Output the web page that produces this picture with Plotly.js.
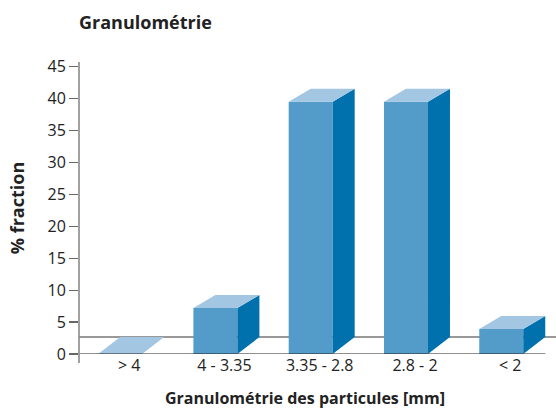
<!DOCTYPE html>
<html>
<head>
<meta charset="utf-8">
<script src="https://cdn.plot.ly/plotly-3.0.1.min.js"></script>
<style>html,body{margin:0;padding:0;background:#fff;}#chart{width:556px;height:409px;}</style>
</head>
<body>
<div id="chart"></div>
<script>
// ---- data ----
const categories = ['> 4', '4 - 3.35', '3.35 - 2.8', '2.8 - 2', '< 2'];
const fractions = [0, 7.2, 39.5, 39.5, 3.9];
const yTickValues = [0, 5, 10, 15, 20, 25, 30, 35, 40, 45];
const chartTitle = 'Granulométrie';
const xTitle = 'Granulométrie des particules [mm]';
const yTitle = '% fraction';

// ---- geometry / style ----
const W = 556, H = 409;
const M = {l: 79, r: 0, t: 62, b: 55};
const plotW = W - M.l - M.r, plotH = H - M.t - M.b;
const xRange = [-0.526, 4.48];
const yRange = [0, 45.74];
const pxX = plotW / (xRange[1] - xRange[0]);
const pxY = plotH / (yRange[1] - yRange[0]);
const faceLeft = -31 / pxX, faceW = 44 / pxX;
const depthX = 22 / pxX, depthTop = 13 / pxY, depthFloor = 17 / pxY;
const FRONT = '#539bc9', SIDE = '#0071ad', TOP = '#a3c6e2';
const FONT = 'Open Sans, sans-serif';

const idx = categories.map((_, i) => i);
const sideX = [], sideY = [], topX = [], topY = [];
idx.forEach(i => {
  const v = fractions[i];
  const L = i + faceLeft, R = L + faceW;
  const d = v > 0 ? depthTop : depthFloor;
  if (v > 0) {
    sideX.push(R, R + depthX, R + depthX, R, R, null);
    sideY.push(0, depthFloor, v + d, v, 0, null);
  }
  topX.push(L, L + depthX, R + depthX, R, L, null);
  topY.push(v, v + d, v + d, v, v, null);
});
const lastRight = categories.length - 1 + faceLeft + faceW + depthX;

const traces = [
  {type: 'bar', x: idx.map(i => i + faceLeft + faceW / 2), y: fractions, width: faceW,
   marker: {color: FRONT, line: {width: 0}}, hoverinfo: 'skip'},
  {type: 'scatter', mode: 'lines', x: sideX, y: sideY, fill: 'toself', fillcolor: SIDE,
   line: {width: 0, color: SIDE}, hoverinfo: 'skip'},
  {type: 'scatter', mode: 'lines', x: topX, y: topY, fill: 'toself', fillcolor: TOP,
   line: {width: 0, color: TOP}, hoverinfo: 'skip'}
];

const layout = {
  width: W, height: H, margin: M, showlegend: false,
  paper_bgcolor: '#fff', plot_bgcolor: '#fff',
  font: {family: FONT, color: '#222', size: 16},
  title: {text: '<b>' + chartTitle + '</b>', x: M.l / W, xanchor: 'left', xref: 'container',
          y: 1 - 23 / H, yanchor: 'middle', font: {size: 18, family: FONT, color: '#222'}},
  xaxis: {range: xRange, tickvals: idx, ticktext: categories, showgrid: false, zeroline: false,
          showline: false, ticks: '', tickfont: {size: 16, family: FONT, color: '#222'},
          fixedrange: true, automargin: false},
  yaxis: {range: yRange, tickvals: yTickValues, showgrid: false, zeroline: false, showline: false,
          ticks: 'outside', ticklen: 9, tickwidth: 1.2, tickcolor: '#666',
          tickfont: {size: 16, family: FONT, color: '#222'},
          title: {text: '<b>' + yTitle + '</b>', standoff: 18, font: {size: 18, family: FONT, color: '#222'}},
          fixedrange: true, automargin: false},
  annotations: [
    {text: '<b>' + xTitle + '</b>', xref: 'paper', yref: 'paper',
     x: (305 - M.l) / plotW, y: -44 / plotH, xanchor: 'center', yanchor: 'middle',
     showarrow: false, font: {size: 16, family: FONT, color: '#222'}}
  ],
  shapes: [
    {type: 'line', xref: 'paper', yref: 'y', x0: 0, x1: 1, y0: depthFloor, y1: depthFloor,
     line: {color: '#333', width: 1}, layer: 'below'},
    {type: 'line', xref: 'paper', yref: 'y', x0: 0, x1: (lastRight - xRange[0]) / (xRange[1] - xRange[0]),
     y0: 0, y1: 0, line: {color: '#222', width: 1.2}, layer: 'above'},
    {type: 'line', xref: 'paper', yref: 'paper', x0: 0, x1: 0, y0: -9 / plotH, y1: 1,
     line: {color: '#8a8a8a', width: 1.6}, layer: 'above'}
  ]
};

Plotly.newPlot('chart', traces, layout, {staticPlot: true, displayModeBar: false});
</script>
</body>
</html>
